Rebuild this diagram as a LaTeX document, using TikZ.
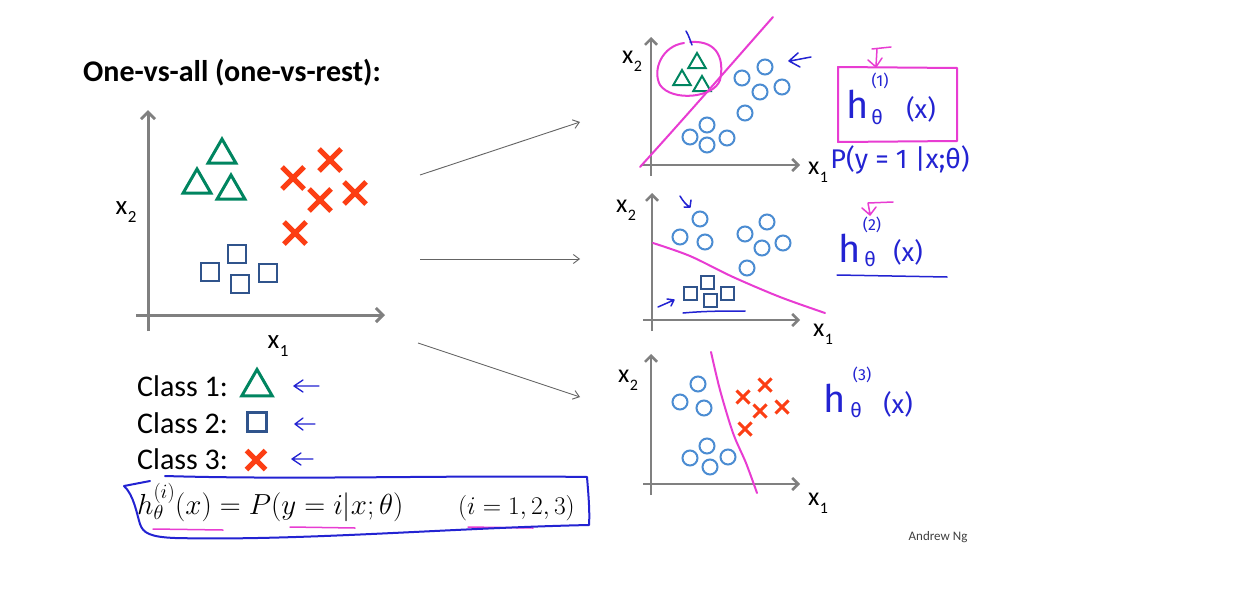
\RequirePackage{fix-cm}
\documentclass[tikz,border=0pt]{standalone}
\usepackage[no-math]{fontspec}
\setmainfont{Carlito}
\newfontfamily\hand{Fira Sans}
\usetikzlibrary{shapes.geometric,shapes.misc,arrows.meta}
\definecolor{axgray}{RGB}{128,128,128}
\definecolor{arrgray}{RGB}{100,100,100}
\definecolor{tgreen}{RGB}{0,133,96}
\definecolor{sblue}{RGB}{48,84,140}
\definecolor{xred}{RGB}{252,62,20}
\definecolor{cblue}{RGB}{75,140,210}
\definecolor{pink}{RGB}{232,60,210}
\definecolor{hblue}{RGB}{35,35,210}
\newcommand\xlab[2]{x\kern0.5pt\raisebox{-0.3em}{\fontsize{#2}{#2}\selectfont #1}}
\begin{document}
\begin{tikzpicture}[x=1pt,y=-1pt,
  ax/.style={draw=axgray,line width=3pt,-{Straight Barb[length=7pt,width=14pt]}},
  axs/.style={draw=axgray,line width=2.5pt,-{Straight Barb[length=6pt,width=12pt]}},
  link/.style={draw=arrgray,line width=0.9pt,-{Straight Barb[length=6pt,width=9pt]}},
  tri/.style={regular polygon,regular polygon sides=3,draw=tgreen,line width=3pt,minimum size=32pt,inner sep=0pt},
  trs/.style={tri,line width=2pt,minimum size=20pt},
  sq/.style={rectangle,draw=sblue,line width=2.5pt,minimum size=18pt,inner sep=0pt},
  sqs/.style={sq,line width=2pt,minimum size=13pt},
  crs/.style={cross out,draw=xred,line width=5pt,minimum size=17pt,inner sep=0pt},
  crss/.style={crs,line width=3pt,minimum size=10pt},
  circ/.style={circle,draw=cblue,line width=2pt,minimum size=15pt,inner sep=0pt},
  hw/.style={line width=2pt,line cap=round,line join=round},
  hwtext/.style={text=hblue,inner sep=0pt,font=\hand\fontsize{#1}{#1}\selectfont},
  lab/.style={inner sep=0pt,font=\fontsize{27}{27}\selectfont},
]
\useasboundingbox (0,0) rectangle (1250,608);
\fill[white] (0,0) rectangle (1250,608);

% ---------- title ----------
\node[anchor=base west,inner sep=0pt,font=\fontsize{30}{32}\selectfont\bfseries] (title) at (83,81) {One-vs-all (one-vs-rest):};

% ---------- left plot ----------
\coordinate (Lyb) at (148,331); \coordinate (Lyt) at (148,110);
\coordinate (Lxl) at (136,315); \coordinate (Lxr) at (385,315);
\draw[ax] (Lyb) -- (Lyt);
\draw[ax] (Lxl) -- (Lxr);
\node[lab] (Lx2) at (126,212) {\xlab{2}{17}};
\node[lab] (Lx1) at (278,346) {\xlab{1}{17}};
\node[tri] (t1) at (222,155) {};
\node[tri] (t2) at (197,185) {};
\node[tri] (t3) at (231,191) {};
\node[sq] (s1) at (210,272) {};
\node[sq] (s2) at (237,254) {};
\node[sq] (s3) at (240,284) {};
\node[sq] (s4) at (268,273) {};
\node[crs] (x1) at (330,160) {};
\node[crs] (x2) at (293,178) {};
\node[crs] (x3) at (320,200) {};
\node[crs] (x4) at (355,193) {};
\node[crs] (x5) at (295,233) {};

% ---------- legend ----------
\node[anchor=base west,inner sep=0pt,font=\fontsize{30}{30}\selectfont] (c1) at (137,396) {Class 1:};
\node[anchor=base west,inner sep=0pt,font=\fontsize{30}{30}\selectfont] (c2) at (137,433) {Class 2:};
\node[anchor=base west,inner sep=0pt,font=\fontsize{30}{30}\selectfont] (c3) at (137,469) {Class 3:};
\node[tri,minimum size=35pt] (lt) at (257,387) {};
\node[sq,minimum size=19pt] (ls) at (257,422) {};
\node[crs,minimum size=14pt] (lx) at (256,460) {};
\draw[hw,hblue,line width=1.3pt] (319,386) -- (295,386) (303,380) -- (294,386) -- (303,392);
\draw[hw,hblue,line width=1.3pt] (315,424) -- (296,424) (303,418) -- (295,424) -- (303,430);
\draw[hw,hblue,line width=1.3pt] (313,459) -- (293,459) (301,453) -- (292,459) -- (301,465);

% ---------- formula ----------
\node[anchor=base west,inner sep=0pt,font=\fontsize{29}{33}\selectfont] (f1) at (137,514) {$h_\theta^{(i)}(x) = P(y=i|x;\theta)$};
\node[anchor=base west,inner sep=0pt,font=\fontsize{25.5}{29}\selectfont] (f2) at (458,514) {$(i=1,2,3)$};
\draw[hw,pink,line width=1.5pt] (153,529) -- (223,530);
\draw[hw,pink,line width=1.5pt] (290,527) -- (355,528);
\draw[hw,pink,line width=1.5pt] (468,527) -- (533,528);
\draw[hw,hblue] (150,481) -- (124,486) .. controls (134,495) and (137,515) .. (140,524)
  .. controls (143,533) and (150,537) .. (175,538) .. controls (300,541) and (450,528) .. (589,525)
  .. controls (590,510) and (588,490) .. (587,477) .. controls (450,475) and (300,480) .. (165,476);

% ---------- connectors ----------
\coordinate (a1s) at (420,175); \coordinate (a1e) at (580,122);
\coordinate (a2s) at (420,259); \coordinate (a2e) at (580,259);
\coordinate (a3s) at (418,343); \coordinate (a3e) at (580,397);
\draw[link] (a1s) -- (a1e);
\draw[link] (a2s) -- (a2e);
\draw[link] (a3s) -- (a3e);

% ---------- right plot 1 ----------
\coordinate (Ayb) at (651,176); \coordinate (Ayt) at (651,37);
\coordinate (Axl) at (642,165); \coordinate (Axr) at (800,165);
\draw[axs] (Ayb) -- (Ayt);
\draw[axs] (Axl) -- (Axr);
\node[lab,font=\fontsize{26}{26}\selectfont] (Ax2) at (632,61) {\xlab{2}{16}};
\node[lab,font=\fontsize{26}{26}\selectfont] (Ax1) at (818,172) {\xlab{1}{16}};
\node[trs] (at1) at (697,63) {};
\node[trs] (at2) at (682,80) {};
\node[trs] (at3) at (702,86) {};
\foreach \p [count=\i] in {(765,67),(742,78),(760,92),(782,87),(745,113),(707,125),(690,137),(707,145),(727,138)}
  \node[circ] (ac\i) at \p {};
\draw[hw,pink] (640,167) .. controls (690,112) and (735,60) .. (773,17);
\draw[hw,pink] (690,42) .. controls (720,40) and (724,62) .. (720,80) .. controls (714,98) and (672,102) .. (660,85) .. controls (652,70) and (662,46) .. (684,43);
\draw[hw,hblue,line width=1.5pt] (686,31) .. controls (689,36) and (690,40) .. (692,45);
\draw[hw,hblue,line width=1.5pt] (811,57) -- (790,61) (798,53) -- (789,61) -- (800,67);
\draw[hw,pink] (838,67) -- (957,68) -- (957,141) -- (838,142) -- cycle;
\draw[hw,pink,line width=1.5pt] (872,49) -- (891,47) (877,49) -- (876,66) (868,60) -- (876,67) -- (882,58);
\node[hwtext=16] (a11) at (880,81) {(1)};
\node[hwtext=38] (ah) at (858,104) {h};
\node[hwtext=20] (ath) at (877,117) {θ};
\node[hwtext=26] (ax) at (921,109) {(x)};
\node[hwtext=27] (aP) at (900,160) {P(y = 1 |x;θ)};

% ---------- right plot 2 ----------
\coordinate (Byb) at (652,331); \coordinate (Byt) at (652,193);
\coordinate (Bxl) at (643,320); \coordinate (Bxr) at (800,320);
\draw[axs] (Byb) -- (Byt);
\draw[axs] (Bxl) -- (Bxr);
\node[lab,font=\fontsize{26}{26}\selectfont] (Bx2) at (626,210) {\xlab{2}{16}};
\node[lab,font=\fontsize{26}{26}\selectfont] (Bx1) at (823,334) {\xlab{1}{16}};
\foreach \p [count=\i] in {(700,219),(680,237),(705,242),(745,234),(767,222),(762,248),(783,243),(747,268)}
  \node[circ] (bc\i) at \p {};
\node[sqs] (bs1) at (707,282) {};
\node[sqs] (bs2) at (690,293) {};
\node[sqs] (bs3) at (710,300) {};
\node[sqs] (bs4) at (727,293) {};
\draw[hw,pink] plot[smooth] coordinates {(653,243) (690,256) (733,277) (780,297) (825,313)};
\draw[hw,hblue,line width=1.5pt] (680,196) .. controls (683,201) and (686,205) .. (690,207) (684,207) -- (690,207) -- (691,200);
\draw[hw,hblue,line width=1.5pt] (658,307) -- (674,300) (667,299) -- (674,300) -- (671,306);
\draw[hw,hblue,line width=1.5pt] (683,313) .. controls (705,311) and (725,311) .. (745,311);
\draw[hw,pink,line width=1.5pt] (893,202) -- (868,203) (868,203) -- (870,214) (862,208) -- (870,215) -- (876,207);
\node[hwtext=16] (b22) at (872,225) {(2)};
\node[hwtext=38] (bh) at (850,248) {h};
\node[hwtext=20] (bth) at (870,259) {θ};
\node[hwtext=26] (bx) at (908,252) {(x)};
\draw[hw,hblue,line width=1.5pt] (837,275) -- (947,277);

% ---------- right plot 3 ----------
\coordinate (Cyb) at (651,495); \coordinate (Cyt) at (651,354);
\coordinate (Cxl) at (643,484); \coordinate (Cxr) at (800,484);
\draw[axs] (Cyb) -- (Cyt);
\draw[axs] (Cxl) -- (Cxr);
\node[lab,font=\fontsize{26}{26}\selectfont] (Cx2) at (628,380) {\xlab{2}{16}};
\node[lab,font=\fontsize{26}{26}\selectfont] (Cx1) at (818,503) {\xlab{1}{16}};
\foreach \p [count=\i] in {(698,384),(680,402),(704,408),(707,446),(690,458),(710,467),(728,457)}
  \node[circ] (cc\i) at \p {};
\node[crss] (cx1) at (765,385) {};
\node[crss] (cx2) at (743,397) {};
\node[crss] (cx3) at (760,411) {};
\node[crss] (cx4) at (782,407) {};
\node[crss] (cx5) at (745,429) {};
\draw[hw,pink] plot[smooth] coordinates {(711,352) (720,390) (733,433) (746,463) (757,493)};
\node[hwtext=16] (c33) at (862,375) {(3)};
\node[hwtext=38] (ch) at (835,398) {h};
\node[hwtext=20] (cth) at (856,410) {θ};
\node[hwtext=26] (cx) at (898,404) {(x)};

\node[inner sep=0pt,text=black!75,font=\fontsize{13}{13}\selectfont] (ng) at (938,537) {Andrew Ng};
\end{tikzpicture}
\end{document}
